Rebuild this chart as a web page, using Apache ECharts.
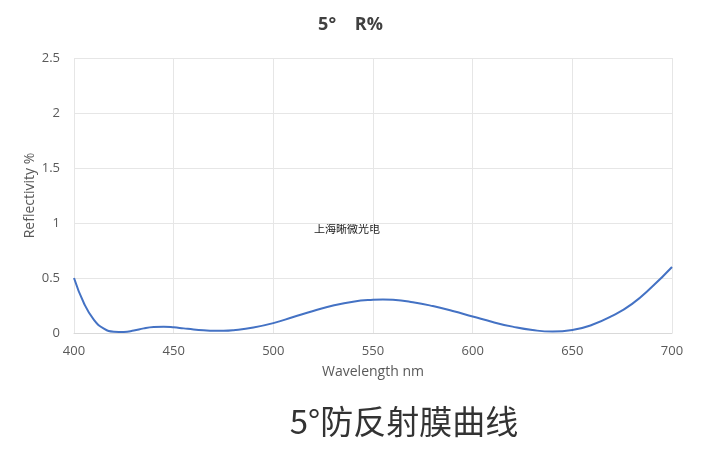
<!DOCTYPE html>
<html><head><meta charset="utf-8">
<script src="https://cdn.jsdelivr.net/npm/echarts@6/dist/echarts.min.js"></script>
<style>html,body{margin:0;padding:0;background:#fff}#c{width:701px;height:462px}</style>
</head><body><div id="c"></div>
<script>
const wavelengths = [400,405,410,415,420,425,430,435,440,445,450,455,460,465,470,475,480,490,500,510,520,530,540,550,555,560,570,580,590,600,610,620,630,640,650,660,670,680,690,700];
const reflectivity = [0.50,0.27,0.12,0.04,0.012,0.01,0.022,0.042,0.054,0.057,0.052,0.042,0.032,0.025,0.021,0.021,0.026,0.05,0.09,0.145,0.2,0.25,0.285,0.302,0.305,0.302,0.28,0.245,0.2,0.15,0.1,0.058,0.027,0.013,0.027,0.075,0.155,0.265,0.42,0.60];
const titleText = '5°    R%';
const subtitleText = '5°防反射膜曲线';
const watermark = '上海晰微光电';
const xName = 'Wavelength nm';
const yName = 'Reflectivity %';

const chart = echarts.init(document.getElementById('c'));
chart.setOption({
  animation:false,
  title:{text:titleText,left:'center',top:11,textStyle:{fontFamily:'Open Sans, Noto Sans',fontSize:18,fontWeight:'bold',color:'#404040'}},
  grid:{left:74,right:29,top:58,bottom:129},
  xAxis:{type:'value',min:400,max:700,interval:50,name:xName,nameLocation:'middle',nameGap:32,
    nameTextStyle:{fontFamily:'Open Sans, Noto Sans',fontSize:14,color:'#595959'},
    axisLine:{show:true,lineStyle:{color:'#d9d9d9'}},axisTick:{show:false},
    axisLabel:{fontFamily:'Open Sans, Noto Sans',fontSize:13,color:'#595959',margin:12},
    splitLine:{show:true,lineStyle:{color:'#e6e6e6'}}},
  yAxis:{type:'value',min:0,max:2.5,interval:0.5,name:yName,nameLocation:'middle',nameGap:37,nameMoveOverlap:false,
    nameTextStyle:{fontFamily:'Open Sans, Noto Sans',fontSize:14,color:'#595959'},
    axisLine:{show:false},axisTick:{show:false},
    axisLabel:{fontFamily:'Open Sans, Noto Sans',fontSize:13,color:'#595959',margin:14},
    splitLine:{show:true,lineStyle:{color:'#e6e6e6'}}},
  graphic:[
    {type:'text',x:404,y:405,style:{text:subtitleText,font:'33px "Noto Sans CJK SC", "Noto Sans"',fill:'#333',textAlign:'center'}},
    {type:'text',x:314,y:223,style:{text:watermark,font:'11px "Noto Sans CJK SC"',fill:'#222'}}
  ],
  series:[{type:'line',data:wavelengths.map((w,i)=>[w,reflectivity[i]]),smooth:0.5,showSymbol:false,
    lineStyle:{color:'#4472C4',width:2}}]
});
</script></body></html>
